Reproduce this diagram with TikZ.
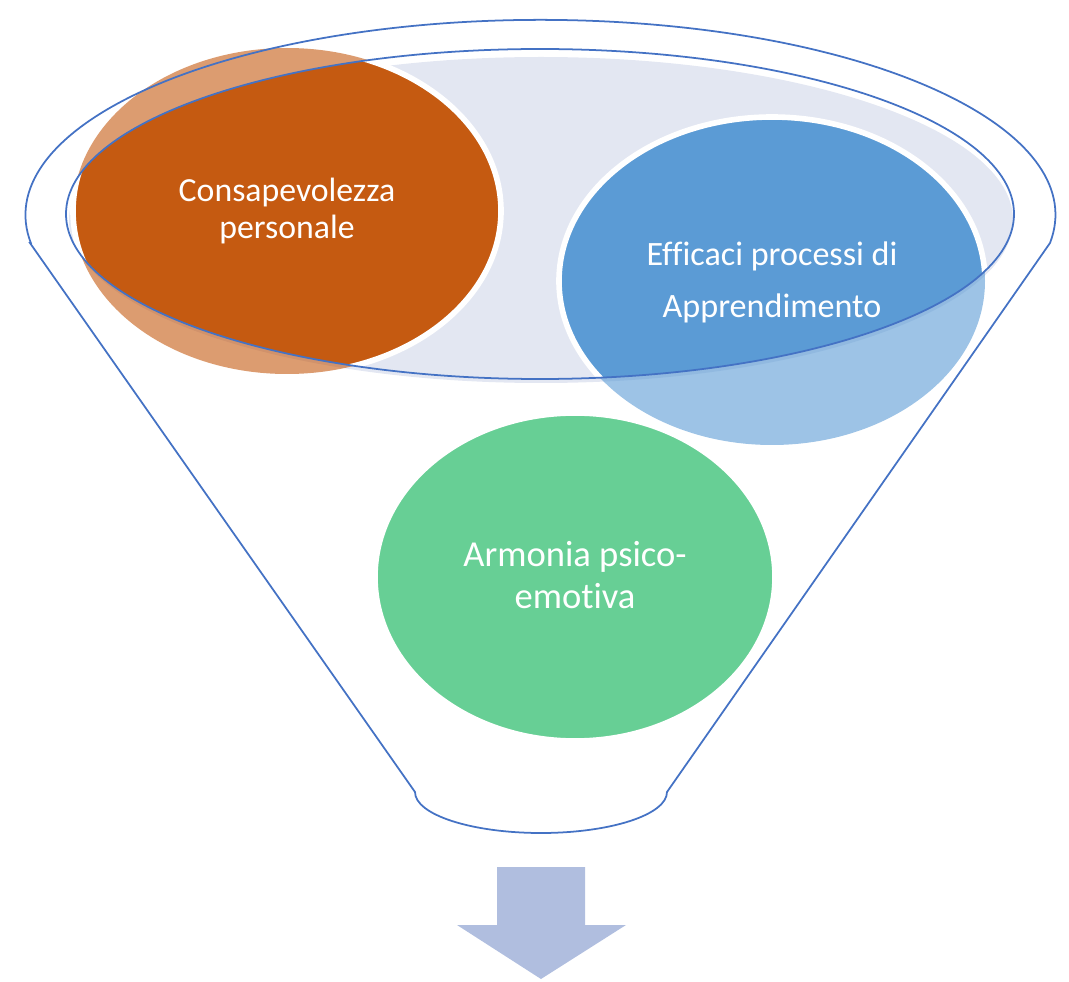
\documentclass[tikz,border=0pt]{standalone}
\usepackage{fontspec}
\setmainfont{Carlito}[Ligatures=NoCommon]
\usepackage{xcolor}
\definecolor{funnelblue}{HTML}{4472C4}
\definecolor{rimfill}{HTML}{E3E7F2}
\definecolor{burntorange}{HTML}{C55A11}
\definecolor{skyblue}{HTML}{5B9BD5}
\definecolor{mintgreen}{HTML}{67CF95}
\definecolor{arrowfill}{HTML}{B0BEDF}
\usetikzlibrary{positioning}

\begin{document}
\begin{tikzpicture}[x=0.01cm, y=-0.01cm]
	\tikzset{
		outline/.style={line width=0.5pt, funnelblue},
		rim/.style={white, line width=1.6pt},
		label/.style={text=white, align=center}
	}
	\useasboundingbox (0,0) rectangle (1069,982);
	% funnel rim fill
	\fill [rimfill] (541,220) ellipse [x radius=472, y radius=163];
	% the three ellipses
	\fill [burntorange, fill opacity=0.6] (287,211) ellipse [x radius=214, y radius=163];
	\fill [skyblue, fill opacity=0.6] (772,281) ellipse [x radius=213, y radius=164];
	\begin{scope}
		\clip (540,214) ellipse [x radius=474, y radius=165];
		\fill [burntorange] (287,211) ellipse [x radius=214, y radius=163];
		\draw [rim] (287,211) ellipse [x radius=214, y radius=163];
		\fill [skyblue] (772,281) ellipse [x radius=213, y radius=164];
		\draw [rim] (772,281) ellipse [x radius=213, y radius=164];
	\end{scope}
	\fill [mintgreen] (575,577) ellipse [x radius=200, y radius=164];
	\draw [rim] (575,577) ellipse [x radius=200, y radius=164];
	% funnel
	\draw [outline] (540,214) ellipse [x radius=474, y radius=165];
	\draw [outline] (30,243) -- (415,792)
		arc [start angle=180, end angle=0, x radius=126, y radius=41]
		-- (1050,243) arc [start angle=8.3, end angle=-188.3, x radius=515, y radius=195] -- cycle;
	\node [label, font=\fontsize{9.6}{10.3}\selectfont] (consap) at (287,211) {Consapevolezza\\personale};
	\node [label, font=\fontsize{9.7}{14.8}\selectfont] (efficaci) at (772,282) {Efficaci processi di\\Apprendimento};
	\node [label, font=\fontsize{10.4}{11.7}\selectfont] (armonia) at (575,575) {Armonia psico-\\emotiva};
	% arrow
	\fill [arrowfill] (497,867) -- (585,867) -- (585,925) -- (626,925) -- (541,979)
		-- (457,925) -- (497,925) -- cycle;
\end{tikzpicture}
\end{document}
